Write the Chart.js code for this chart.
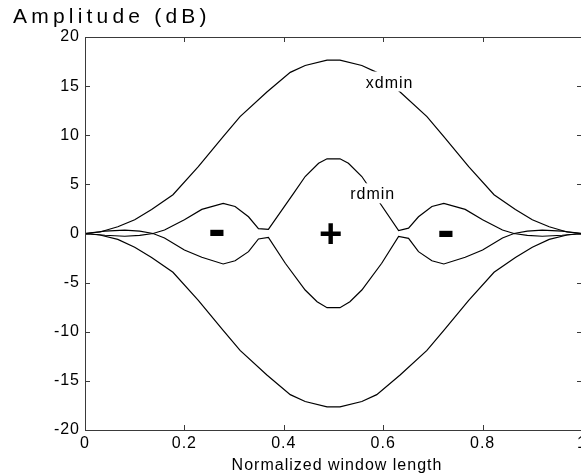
<!DOCTYPE html>
<html>
<head>
<meta charset="utf-8">
<script src="https://cdn.jsdelivr.net/npm/chart.js@4/dist/chart.umd.min.js"></script>
<style>
  html, body { margin: 0; padding: 0; background: #fff; overflow: hidden; }
  #wrap { width: 581px; height: 475px; overflow: hidden; position: relative; }
  canvas { display: block; }
</style>
</head>
<body>
<div id="wrap"><canvas id="chart" width="584" height="475"></canvas></div>
<script>
// Window length grid and amplitudes (dB)
const xdminX     = [0, 0.03, 0.066, 0.10, 0.134, 0.177, 0.228, 0.278, 0.312, 0.366, 0.413, 0.443, 0.487,
                    0.513, 0.557, 0.587, 0.634, 0.688, 0.722, 0.772, 0.823, 0.866, 0.90, 0.934, 0.97, 1];
const xdminUpper = [0, 0.15, 0.69, 1.4, 2.45, 3.95, 6.8, 9.85, 11.9, 14.4, 16.4, 17.1, 17.65,
                    17.65, 17.1, 16.4, 14.4, 11.9, 9.85, 6.8, 3.95, 2.45, 1.4, 0.69, 0.15, 0];
const xdminLower = [0, -0.15, -0.6, -1.4, -2.45, -3.95, -6.8, -9.85, -11.9, -14.4, -16.4, -17.1, -17.65,
                    -17.65, -17.1, -16.4, -14.4, -11.9, -9.85, -6.8, -3.95, -2.45, -1.4, -0.6, -0.15, 0];

const rdminUpperX = [0, 0.04, 0.08, 0.11, 0.137, 0.16, 0.20, 0.235, 0.278, 0.302, 0.329, 0.349, 0.369,
                     0.42, 0.443, 0.470, 0.487, 0.513, 0.530, 0.557, 0.58, 0.631, 0.651, 0.671, 0.698,
                     0.722, 0.765, 0.80, 0.84, 0.863, 0.89, 0.92, 0.96, 1];
const rdminUpper  = [0, 0.25, 0.35, 0.25, 0, 0.36, 1.4, 2.45, 3.07, 2.75, 1.7, 0.5, 0.42,
                     4.1, 5.8, 7.15, 7.6, 7.6, 7.15, 5.8, 4.1, 0.3, 0.55, 1.7, 2.75,
                     3.07, 2.45, 1.4, 0.36, 0, 0.25, 0.35, 0.25, 0];
const rdminLowerX = [0, 0.04, 0.08, 0.11, 0.137, 0.16, 0.20, 0.235, 0.278, 0.302, 0.329, 0.349, 0.369,
                     0.403, 0.443, 0.467, 0.487, 0.513, 0.533, 0.557, 0.597, 0.631, 0.651, 0.671, 0.698,
                     0.722, 0.765, 0.80, 0.84, 0.863, 0.89, 0.92, 0.96, 1];
const rdminLower  = [0, -0.18, -0.28, -0.2, 0, -0.45, -1.68, -2.42, -3.1, -2.77, -1.85, -0.56, -0.39,
                     -3.03, -5.75, -6.94, -7.55, -7.55, -6.94, -5.75, -3.03, -0.3, -0.5, -1.85, -2.77,
                     -3.1, -2.42, -1.68, -0.45, 0, -0.2, -0.28, -0.18, 0];

const xTickValues = [0, 0.2, 0.4, 0.6, 0.8, 1];
const xTickLabels = ['0', '0.2', '0.4', '0.6', '0.8', '1'];
const yTickValues = [-20, -15, -10, -5, 0, 5, 10, 15, 20];
const yTickLabels = ['-20', '-15', '-10', '-5', '0', '5', '10', '15', '20'];

const curveNames = ['xdmin', 'rdmin'];
const regionSigns = ['-', '+', '-'];

const FONT = '"Liberation Sans", Arial, Helvetica, sans-serif';

// In-plot text: curve names (masked over the line) and region signs
const annotations = [
  { text: curveNames[0], x: 0.611, y: 15.47, size: 16, bold: false, mask: true },
  { text: curveNames[1], x: 0.578, y: 4.09,  size: 16, bold: false, mask: true },
  { text: regionSigns[0], x: 0.266, y: 0.15, size: 52, bold: true, mask: false },
  { text: regionSigns[1], x: 0.494, y: 0.0,  size: 40, bold: true, mask: false },
  { text: regionSigns[2], x: 0.727, y: 0.0,  size: 52, bold: true, mask: false }
];

function points(xs, ys) { return xs.map((x, i) => ({ x: x, y: ys[i] })); }

function line(data) {
  return { data: data, showLine: true, borderColor: '#000', borderWidth: 1.2,
           pointRadius: 0, pointHoverRadius: 0, tension: 0, fill: false };
}

const AXIS_COLOR = '#3a3a3a';
const TICK_LEN = 5;

const framePlugin = {
  id: 'frame',
  beforeDraw(chart) {
    chart.ctx.letterSpacing = '1px';
  },
  afterDatasetsDraw(chart) {
    const ctx = chart.ctx;
    const xs = chart.scales.x, ys = chart.scales.y;
    ctx.save();
    ctx.letterSpacing = '1px';
    annotations.forEach(a => {
      ctx.font = (a.bold ? 'bold ' : '') + a.size + 'px ' + FONT;
      ctx.textAlign = 'left';
      ctx.textBaseline = 'alphabetic';
      const m = ctx.measureText(a.text);
      const inkW = m.actualBoundingBoxRight + m.actualBoundingBoxLeft;
      const inkH = m.actualBoundingBoxAscent + m.actualBoundingBoxDescent;
      const cx = xs.getPixelForValue(a.x), cy = ys.getPixelForValue(a.y);
      const bx = cx - inkW / 2 + m.actualBoundingBoxLeft;
      const by = cy + (m.actualBoundingBoxAscent - m.actualBoundingBoxDescent) / 2;
      if (a.mask) {
        ctx.fillStyle = '#fff';
        ctx.fillRect(cx - inkW / 2 - 3, cy - inkH / 2 - 4, inkW + 6, inkH + 8);
      }
      ctx.fillStyle = '#000';
      ctx.fillText(a.text, bx, by);
    });
    ctx.restore();
  },
  afterDraw(chart) {
    const ctx = chart.ctx;
    const a = chart.chartArea;
    const xs = chart.scales.x, ys = chart.scales.y;
    ctx.save();
    ctx.strokeStyle = AXIS_COLOR;
    ctx.lineWidth = 1;
    ctx.beginPath();
    ctx.rect(a.left + 0.5, a.top + 0.5, a.right - a.left, a.bottom - a.top);
    ctx.stroke();
    ctx.beginPath();
    xTickValues.forEach(v => {
      const px = Math.round(xs.getPixelForValue(v)) + 0.5;
      ctx.moveTo(px, a.bottom); ctx.lineTo(px, a.bottom - TICK_LEN);
      ctx.moveTo(px, a.top);    ctx.lineTo(px, a.top + TICK_LEN);
    });
    yTickValues.forEach(v => {
      const py = Math.round(ys.getPixelForValue(v)) + 0.5;
      ctx.moveTo(a.left, py);  ctx.lineTo(a.left + TICK_LEN, py);
      ctx.moveTo(a.right, py); ctx.lineTo(a.right - TICK_LEN, py);
    });
    ctx.stroke();

    // axis titles
    ctx.fillStyle = '#000';
    ctx.textBaseline = 'alphabetic';
    ctx.font = '21px ' + FONT;
    ctx.letterSpacing = '4.2px';
    ctx.textAlign = 'left';
    ctx.fillText('Amplitude (dB)', 13, 23);
    ctx.font = '16px ' + FONT;
    ctx.letterSpacing = '1px';
    ctx.textAlign = 'center';
    ctx.fillText('Normalized window length', 337, 470);
    ctx.restore();
  }
};

new Chart(document.getElementById('chart'), {
  type: 'scatter',
  data: {
    datasets: [
      line(points(xdminX, xdminUpper)),
      line(points(xdminX, xdminLower)),
      line(points(rdminUpperX, rdminUpper)),
      line(points(rdminLowerX, rdminLower))
    ]
  },
  options: {
    responsive: false,
    animation: false,
    devicePixelRatio: 1,
    events: [],
    layout: { padding: { top: 37, right: 2, left: 0, bottom: 0 } },
    plugins: { legend: { display: false }, tooltip: { enabled: false }, title: { display: false } },
    scales: {
      x: {
        type: 'linear', min: 0, max: 1,
        grid: { display: false, drawTicks: false },
        border: { display: false },
        afterBuildTicks: s => { s.ticks = xTickValues.map(v => ({ value: v })); },
        afterFit: s => { s.height = 45; s.paddingLeft = 0; s.paddingRight = 0; },
        ticks: {
          padding: 4, color: '#000', maxRotation: 0, autoSkip: false,
          font: { family: FONT, size: 16 },
          callback: (v, i) => xTickLabels[i]
        }
      },
      y: {
        type: 'linear', min: -20, max: 20,
        grid: { display: false, drawTicks: false },
        border: { display: false },
        afterBuildTicks: s => { s.ticks = yTickValues.map(v => ({ value: v })); },
        afterFit: s => { s.width = 85; s.paddingTop = 0; s.paddingBottom = 0; },
        ticks: {
          padding: 5, color: '#000', autoSkip: false,
          font: { family: FONT, size: 16 },
          callback: (v, i) => yTickLabels[i]
        }
      }
    }
  },
  plugins: [framePlugin]
});
</script>
</body>
</html>
